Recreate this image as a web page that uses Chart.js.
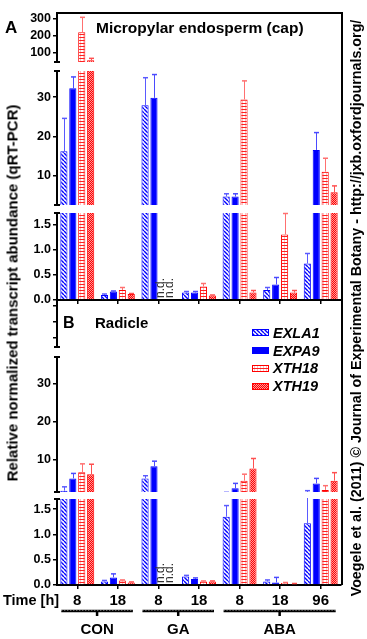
<!DOCTYPE html>
<html>
<head>
<meta charset="utf-8">
<script src="https://cdn.jsdelivr.net/npm/chart.js@4.4.1/dist/chart.umd.min.js"></script>
<style>
  body { margin: 0; background: #fff; }
  #wrap { position: relative; width: 367px; height: 639px; overflow: hidden; background: #fff;
          font-family: 'Liberation Sans', Arial, sans-serif; color: #000; }
  #wrap canvas.seg { position: absolute; left: 0; }
  .txt { position: absolute; font-weight: bold; white-space: nowrap; line-height: 1; z-index: 5; }
  .rot { position: absolute; font-weight: bold; white-space: nowrap; line-height: 1; z-index: 5;
         transform: translate(-50%, -50%) rotate(-90deg); }
  #frame { position: absolute; left: 56px; top: 12px; width: 287px; height: 573px; box-sizing: border-box;
           border-top: 2px solid #000; border-right: 2px solid #000; z-index: 4; }
  #legend { position: absolute; left: 252px; top: 324px; z-index: 5; }
  #legend .row { display: flex; align-items: center; height: 17.8px; }
  #legend canvas { margin-right: 4px; }
  #legend span { font-weight: bold; font-style: italic; font-size: 14.5px; }
</style>
</head>
<body>
<div id="wrap">
  <div id="frame"></div>
  <div class="txt" style="left:5px;top:19px;font-size:17px;">A</div>
  <div class="txt" style="left:96px;top:20px;font-size:15.5px;">Micropylar endosperm (cap)</div>
  <div class="txt" style="left:63px;top:315px;font-size:16px;">B</div>
  <div class="txt" style="left:95px;top:315px;font-size:15px;">Radicle</div>
  <div class="txt" style="left:3px;top:593px;font-size:14.5px;">Time [h]</div>
  <div class="rot" style="left:12px;top:293px;font-size:15px;">Relative normalized transcript abundance (qRT-PCR)</div>
  <div class="rot" style="left:356px;top:308px;font-size:14.3px;">Voegele et al. (2011) © Journal of Experimental Botany - http://jxb.oxfordjournals.org/</div>
  <div id="legend"></div>
</div>
<script>
// categories
const timeLabels = ['8', '18', '8', '18', '8', '18', '96'];
const treatmentGroups = ['CON', 'GA', 'ABA'];
const groupStart = [0, 2, 4];
const groupEnd = [1, 3, 6];
const seriesNames = ['EXLA1', 'EXPA9', 'XTH18', 'XTH19'];

// panel A: micropylar endosperm (cap) - means and upper error bar ends (null = n.d.)
const capEXLA1 = [16.3, 0.1, 27.9, 0.15, 4.8, 0.2, 0.73];
const capEXLA1Err = [24.6, 0.12, 34.9, 0.17, 5.5, 0.25, 0.93];
const capEXPA9 = [32.2, 0.17, 29.8, 0.15, 4.8, 0.31, 16.6];
const capEXPA9Err = [35.1, 0.18, 35.7, 0.17, 5.5, 0.45, 21];
const capXTH18 = [220, 0.2, null, 0.27, 29.4, 1.31, 11.1];
const capXTH18Err = [310, 0.25, null, 0.33, 34.1, 1.73, 14.5];
const capXTH19 = [52, 0.12, null, 0.09, 0.15, 0.15, 5.9];
const capXTH19Err = [64, 0.13, null, 0.1, 0.19, 0.19, 7.5];

// panel B: radicle
const radEXLA1 = [2.0, 0.07, 5.2, 0.17, 1.35, 0.07, 1.22];
const radEXLA1Err = [3.0, 0.09, 5.9, 0.19, 1.57, 0.1, 2.0];
const radEXPA9 = [5.2, 0.15, 8.4, 0.12, 2.6, 0.05, 3.9];
const radEXPA9Err = [6.5, 0.22, 9.7, 0.14, 3.9, 0.15, 5.2];
const radXTH18 = [6.8, 0.09, null, 0.07, 4.6, 0.04, 2.2];
const radXTH18Err = [9.0, 0.1, null, 0.08, 6.3, 0.05, 3.3];
const radXTH19 = [6.3, 0.05, null, 0.07, 7.8, 0.02, 4.6];
const radXTH19Err = [8.9, 0.06, null, 0.08, 10.4, 0.03, 6.7];

// broken y axis: ranges and tick labels of each piece
const upperRange = [42, 330];
const upperTicks = [100, 200, 300];
const capMiddleRange = [2.66, 36.6];
const radMiddleRange = [1.65, 36.9];
const middleTicks = [10, 20, 30];
const capLowerRange = [0, 1.74];
const radLowerRange = [0, 1.7];
const lowerTicks = [0, 0.5, 1, 1.5];

const panels = {
  A: { values: [capEXLA1, capEXPA9, capXTH18, capXTH19], errors: [capEXLA1Err, capEXPA9Err, capXTH18Err, capXTH19Err] },
  B: { values: [radEXLA1, radEXPA9, radXTH18, radXTH19], errors: [radEXLA1Err, radEXPA9Err, radXTH18Err, radXTH19Err] }
};

const FONT = "'Liberation Sans', Arial, sans-serif";
const NARROW = "'Liberation Sans Narrow', 'Arial Narrow', 'Liberation Sans', Arial, sans-serif";
const W = 345, RIGHT = 341, AXIS_W = 57, PAD = 10;

Chart.defaults.font.family = FONT;
Chart.defaults.color = '#000';

function makePattern(w, h, draw) {
  const c = document.createElement('canvas');
  c.width = w; c.height = h;
  const g = c.getContext('2d');
  draw(g, w, h);
  return g.createPattern(c, 'repeat');
}

const hatchBlue = makePattern(4, 4, (g, w, h) => {
  g.fillStyle = '#fff'; g.fillRect(0, 0, w, h);
  g.strokeStyle = '#0000ff'; g.lineWidth = 1.4;
  g.beginPath();
  for (let k = -1; k <= 1; k++) { g.moveTo(0, k * h); g.lineTo(w, k * h + h); }
  g.stroke();
});
const stripeRed = makePattern(3, 3, (g, w, h) => {
  g.fillStyle = '#fff'; g.fillRect(0, 0, w, h);
  g.fillStyle = '#ff2020'; g.fillRect(0, 0, w, 1);
  g.fillStyle = '#ffc0c0'; g.fillRect(2, 1, 1, 2);
});
const checkRed = makePattern(2, 2, (g, w, h) => {
  g.fillStyle = '#ff9a9a'; g.fillRect(0, 0, w, h);
  g.fillStyle = '#ff0000'; g.fillRect(0, 0, 1, 1); g.fillRect(1, 1, 1, 1);
});

const fills = [hatchBlue, '#0000ff', stripeRed, checkRed];
const borders = ['#0000ff', '#0000ff', '#ff0000', '#ff0000'];
const errColors = ['#5a5aff', '#4a4aff', '#ff7070', '#ff5050'];

const segments = [
  { panel: 'A', top: 14, bottom: 62, range: upperRange, ticks: upperTicks, labels: true, caps: ['bottom'] },
  { panel: 'A', top: 71, bottom: 205, range: capMiddleRange, ticks: middleTicks, labels: true, caps: ['top', 'bottom'] },
  { panel: 'A', top: 213, bottom: 300, range: capLowerRange, ticks: lowerTicks, labels: true, caps: ['top'], xAxis: 'ticks', nd: true },
  { panel: 'B', top: 301, bottom: 347, range: upperRange, ticks: upperTicks, labels: false, caps: ['bottom'] },
  { panel: 'B', top: 357, bottom: 492, range: radMiddleRange, ticks: middleTicks, labels: true, caps: ['top', 'bottom'] },
  { panel: 'B', top: 499, bottom: 585, range: radLowerRange, ticks: lowerTicks, labels: true, caps: ['top'], xAxis: 'labels', nd: true, groups: true }
];

// error bars (upper only), clipped to the piece they belong to
const errorBars = {
  id: 'errorBars',
  afterDatasetsDraw(chart) {
    const { ctx, chartArea: a } = chart;
    const ys = chart.scales.y;
    ctx.save();
    ctx.beginPath();
    ctx.rect(a.left, a.top - 1, a.right - a.left, a.bottom - a.top + 1);
    ctx.clip();
    chart.data.datasets.forEach((ds, di) => {
      const meta = chart.getDatasetMeta(di);
      ds.data.forEach((v, i) => {
        const e = ds.errTop[i];
        if (v == null || e == null) return;
        const x = Math.round(meta.data[i].x) + 0.5;
        const y0 = ys.getPixelForValue(v), y1 = ys.getPixelForValue(e);
        ctx.strokeStyle = ds.errColor;
        ctx.lineWidth = 1;
        ctx.beginPath();
        ctx.moveTo(x, y0); ctx.lineTo(x, y1);
        ctx.stroke();
        ctx.lineWidth = 1.5;
        ctx.beginPath();
        ctx.moveTo(x - 2.5, y1); ctx.lineTo(x + 2.5, y1);
        ctx.stroke();
      });
    });
    ctx.restore();
  }
};

// "n.d." written upward where a value is missing
const notDetected = {
  id: 'notDetected',
  afterDatasetsDraw(chart, args, opts) {
    if (!opts.show) return;
    const { ctx, chartArea: a } = chart;
    chart.data.datasets.forEach((ds, di) => {
      const meta = chart.getDatasetMeta(di);
      ds.data.forEach((v, i) => {
        if (v != null) return;
        ctx.save();
        ctx.translate(meta.data[i].x + 1.5, a.bottom - 2);
        ctx.rotate(-Math.PI / 2);
        ctx.font = '12px ' + FONT;
        ctx.fillStyle = '#333';
        ctx.textAlign = 'left';
        ctx.textBaseline = 'alphabetic';
        ctx.fillText('n.d.', 0, 0);
        ctx.restore();
      });
    });
  }
};

// small end marks where the y axis is broken
const axisBreak = {
  id: 'axisBreak',
  afterDraw(chart, args, opts) {
    const { ctx, chartArea: a } = chart;
    ctx.save();
    ctx.strokeStyle = '#000';
    ctx.lineWidth = 2;
    (opts.caps || []).forEach(side => {
      const y = side === 'top' ? a.top : a.bottom;
      ctx.beginPath();
      ctx.moveTo(a.left - 3, y); ctx.lineTo(a.left + 3, y);
      ctx.stroke();
    });
    ctx.restore();
  }
};

// treatment brackets under the time labels
const treatmentBrackets = {
  id: 'treatmentBrackets',
  afterDraw(chart, args, opts) {
    if (!opts.show) return;
    const { ctx } = chart;
    const xs = chart.scales.x;
    const yLine = xs.bottom + 2;
    ctx.save();
    treatmentGroups.forEach((name, g) => {
      const x0 = xs.getPixelForValue(groupStart[g]) - 16;
      const x1 = xs.getPixelForValue(groupEnd[g]) + 15;
      const xm = (x0 + x1) / 2;
      ctx.strokeStyle = '#000';
      ctx.lineWidth = 2.5;
      ctx.beginPath();
      ctx.moveTo(x0, yLine); ctx.lineTo(x1, yLine);
      ctx.moveTo(xm, yLine); ctx.lineTo(xm, yLine + 5);
      ctx.stroke();
      ctx.strokeStyle = '#fff';
      ctx.lineWidth = 0.6;
      ctx.setLineDash([1, 2]);
      ctx.beginPath();
      ctx.moveTo(x0, yLine - 0.6); ctx.lineTo(x1, yLine - 0.6);
      ctx.stroke();
      ctx.setLineDash([]);
      ctx.fillStyle = '#000';
      ctx.font = 'bold 15px ' + FONT;
      ctx.textAlign = 'center';
      ctx.textBaseline = 'alphabetic';
      ctx.fillText(name, xm, yLine + 23);
    });
    ctx.restore();
  }
};

const wrap = document.getElementById('wrap');

segments.forEach(seg => {
  const data = panels[seg.panel];
  const xH = seg.xAxis === 'labels' ? 24 : seg.xAxis === 'ticks' ? 6 : 0;
  const extraBottom = seg.groups ? 30 : 0;
  const h = (seg.bottom - seg.top) + PAD * 2 + xH + extraBottom;
  const c = document.createElement('canvas');
  c.className = 'seg';
  c.width = W; c.height = h;
  c.style.width = W + 'px'; c.style.height = h + 'px';
  c.style.top = (seg.top - PAD) + 'px';
  wrap.appendChild(c);

  new Chart(c, {
    type: 'bar',
    data: {
      labels: timeLabels,
      datasets: seriesNames.map((name, k) => ({
        label: name,
        data: data.values[k],
        errTop: data.errors[k],
        errColor: errColors[k],
        backgroundColor: fills[k],
        borderColor: borders[k],
        borderWidth: 1,
        borderSkipped: 'start',
        clip: 0,
        categoryPercentage: 0.88,
        barPercentage: 0.8
      }))
    },
    options: {
      responsive: false,
      animation: false,
      events: [],
      layout: { padding: { top: PAD, bottom: PAD + extraBottom, left: 0, right: W - RIGHT } },
      plugins: {
        legend: { display: false },
        tooltip: { enabled: false },
        notDetected: { show: !!seg.nd },
        axisBreak: { caps: seg.caps },
        treatmentBrackets: { show: !!seg.groups }
      },
      scales: {
        x: {
          display: !!seg.xAxis,
          offset: true,
          grid: { display: true, drawOnChartArea: false, drawTicks: true, tickLength: 4, offset: false, color: '#000', lineWidth: 1.5 },
          border: { display: true, color: '#000', width: 2 },
          ticks: { display: seg.xAxis === 'labels', autoSkip: false, maxRotation: 0, padding: 3,
                   color: '#000', font: { family: FONT, size: 15, weight: 'bold' } },
          afterFit: s => { s.height = xH; s.paddingLeft = 0; s.paddingRight = 0; }
        },
        y: {
          min: seg.range[0],
          max: seg.range[1],
          afterBuildTicks: s => { s.ticks = seg.ticks.map(v => ({ value: v })); },
          afterFit: s => { s.width = AXIS_W; s.paddingTop = 0; s.paddingBottom = 0; },
          grid: { display: true, drawOnChartArea: false, drawTicks: true, tickLength: 4, color: '#000', lineWidth: 1.5 },
          border: { display: true, color: '#000', width: 2 },
          ticks: {
            padding: 2,
            color: '#000',
            font: { family: NARROW, size: 12.5, weight: 'bold' },
            callback: v => !seg.labels ? '' : (seg.ticks === lowerTicks ? v.toFixed(1) : String(v))
          }
        }
      }
    },
    plugins: [errorBars, notDetected, axisBreak, treatmentBrackets]
  });
});

// legend with the same fills
const legend = document.getElementById('legend');
seriesNames.forEach((name, k) => {
  const row = document.createElement('div');
  row.className = 'row';
  const sw = document.createElement('canvas');
  sw.width = 17; sw.height = 7;
  const g = sw.getContext('2d');
  g.fillStyle = fills[k]; g.fillRect(0, 0, 17, 7);
  g.strokeStyle = borders[k]; g.lineWidth = 1; g.strokeRect(0.5, 0.5, 16, 6);
  const label = document.createElement('span');
  label.textContent = name;
  row.appendChild(sw);
  row.appendChild(label);
  legend.appendChild(row);
});
</script>
</body>
</html>
